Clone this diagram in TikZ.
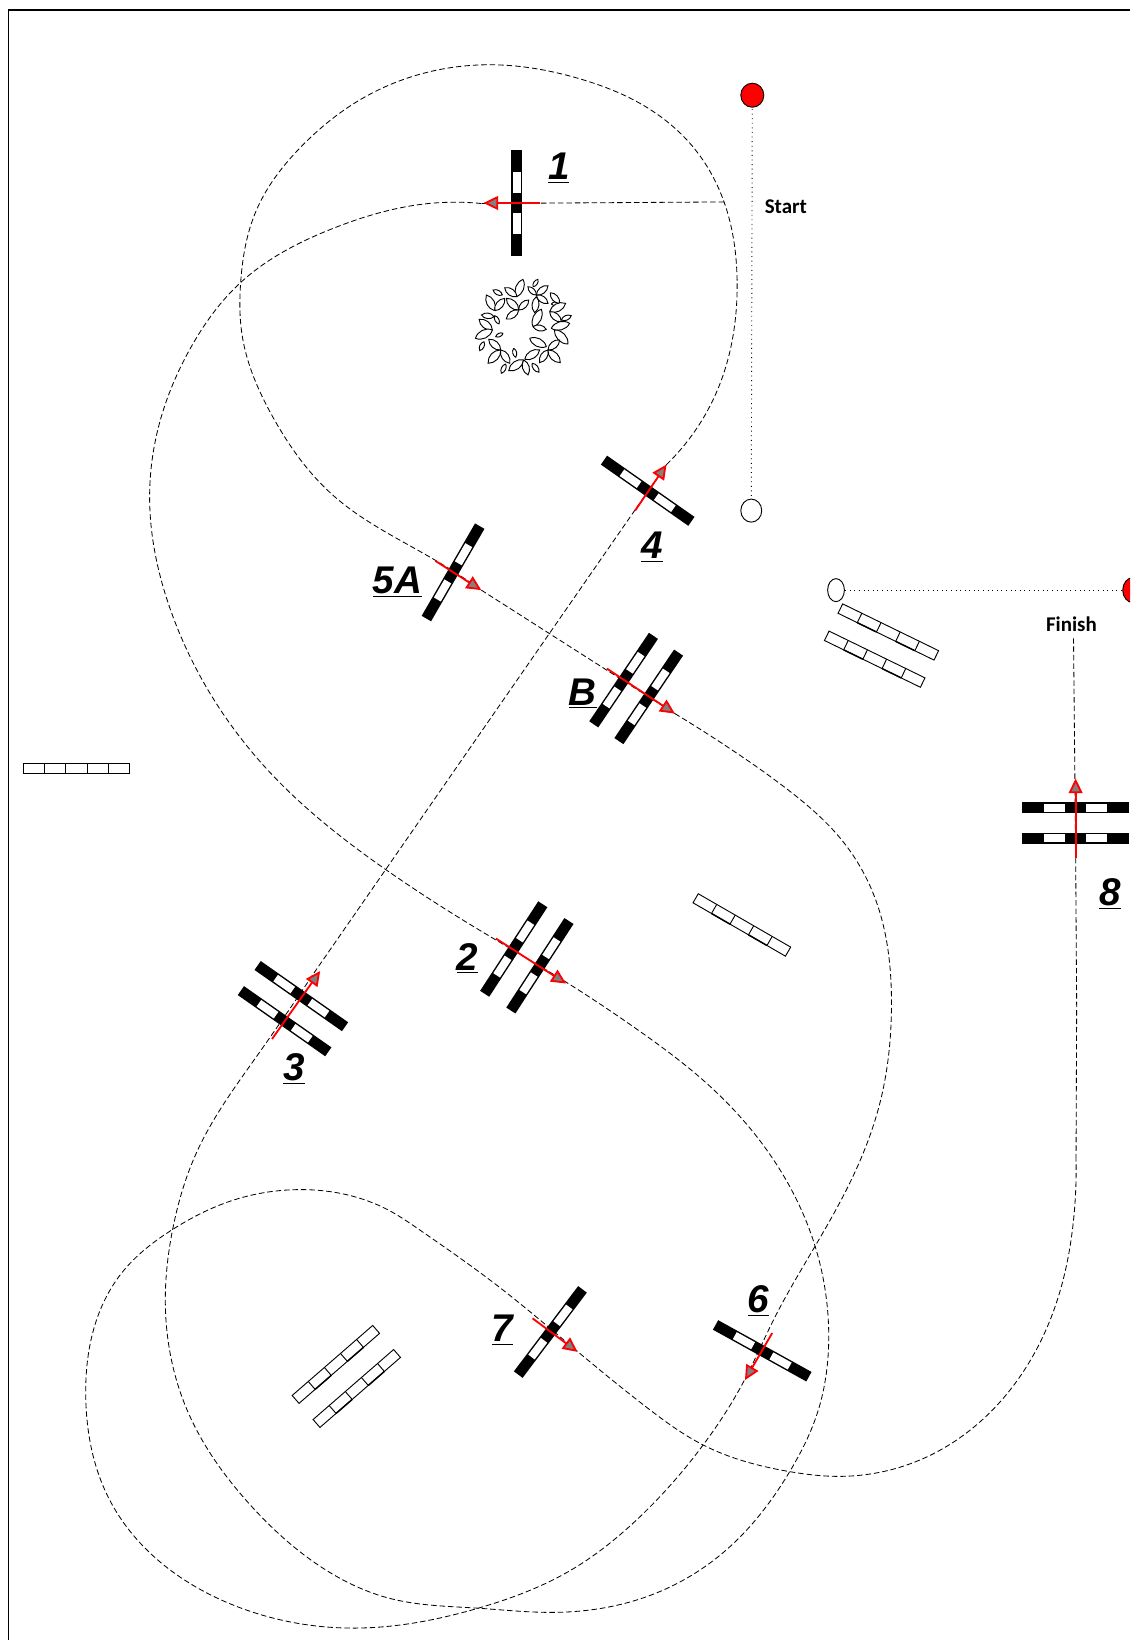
\documentclass[tikz,border=0pt]{standalone}
\usepackage{fontspec}
\setmainfont{Liberation Sans}
\newfontfamily\startfont{Carlito}
\usetikzlibrary{arrows.meta,hobby}
\tikzset{
  course/.style={line width=0.45pt, dash pattern=on 3pt off 1.6pt, use Hobby shortcut},
  gate/.style={line width=0.5pt, dotted},
  redarrow/.style={red, line width=1pt, -{Triangle[length=8pt,width=7.5pt,fill=gray,line width=1pt]}},
  numlabel/.style={font=\fontsize{21}{21}\selectfont\bfseries\itshape, inner sep=0pt},
  gatelabel/.style={font=\startfont\fontsize{11.4}{12}\selectfont\bfseries, inner sep=0pt},
  leaf/.style={line width=0.5pt, fill=white},
}
% pole with black ends: x, y, angle
\newcommand{\blackpole}[3]{
  \begin{scope}[shift={(#1,#2)}, rotate=#3]
    \fill (-51,-5.2) rectangle (51,5.2);
    \fill[white] (-30,-3.8) rectangle (-10,3.8);
    \fill[white] (10,-3.8) rectangle (30,3.8);
  \end{scope}
}
% pole drawn in outline only: x, y, angle
\newcommand{\whitepole}[3]{
  \begin{scope}[shift={(#1,#2)}, rotate=#3]
    \draw[line width=0.5pt] (-51,-5) rectangle (51,5);
    \foreach \s in {-30.6,-10.2,10.2,30.6}
      \draw[line width=0.5pt] (\s,-5) -- (\s,5);
    \draw[line width=0.8pt] (-30.6,5) -- (-10.2,5) (10.2,5) -- (30.6,5);
  \end{scope}
}
\begin{document}
\begin{tikzpicture}[x=0.02cm, y=-0.02cm]
  \clip (0,0) rectangle (1080,1567.4);
  % frame
  \draw[line width=0.8pt] (8,1568) -- (8,9.5) -- (1080,9.5);
  % start and finish
  \draw[gate] (719,91) -- (718,488);
  \draw[gate] (799,564) -- (1083,564);
  \draw[fill=red, line width=0.5pt] (719,91) ellipse (11 and 11.5);
  \draw[fill=white, line width=0.5pt] (718,488) ellipse (10 and 11);
  \draw[fill=white, line width=0.5pt] (799,564) ellipse (8 and 11);
  \draw[fill=red, line width=0.5pt] (1083,564) ellipse (10 and 12);
  % the course, start to 3
  \draw[course] (692,193) -- (460,194.5);
  \draw[course] (460,194.5) .. (405,195) .. (319,218) .. (230,270) .. (183,331) .. (152,406)
    .. (143,475) .. (163,583) .. (255,735) .. (370,832) .. (455,887) .. (540,938)
    .. (612,986) .. (675,1035) .. (739,1108) .. (779,1191) .. (792,1272) .. (781,1351) .. (755,1406) .. (691,1484)
    .. (618,1526) .. (525.5,1541) .. (457,1537) .. (374,1528) .. (306,1497) .. (238,1437) .. (179,1348) .. (158,1239)
    .. (165,1175) .. (189,1099) .. (245,1010) .. (300,930);
  % 3 to 4
  \draw[course] (300,930) -- (637,444);
  % 4 to 5A to B
  \draw[course] (637,444) .. (686,372) .. (704.5,270) .. (692,193) .. (662,140) .. (612,99) .. (553,75)
    .. (475,62) .. (413,68) .. (343,96) .. (288,140) .. (245,201) .. (230,270) .. (231.5,321) .. (261,399)
    .. (319,474) .. (417,536) .. (460,564);
  \draw[course] (460,564) -- (645,682);
  % B to 6 to 7
  \draw[course] (645,682) .. (700,717) .. (752,754)
    .. (803,801) .. (835,855) .. (852,962) .. (841,1054) .. (809,1137) .. (779,1191) .. (739,1262) .. (712,1318)
    .. (672,1381) .. (608,1453) .. (545,1501) .. (457,1537) .. (336,1556) .. (228,1536) .. (104,1432)
    .. (82,1338) .. (116,1217) .. (165,1175) .. (220,1148) .. (282,1137) .. (374,1158) .. (399,1174) .. (477,1230)
    .. (550,1290) .. (618,1345) .. (672,1381) .. (752,1406) .. (800,1411) .. (880,1395) .. (960,1335)
    .. (1010,1244) .. (1026,1166) .. (1028.4,1108);
  \draw[course] (1028.4,1108) -- (1029,962) -- (1028,815) -- (1026,610);
  % jumps
  \blackpole{494}{194}{90}
  \blackpole{596}{650}{56}
  \blackpole{620}{666}{56}
  \blackpole{491}{907}{57}
  \blackpole{516}{923}{57}
  \blackpole{288}{952}{-35}
  \blackpole{272}{976}{-35}
  \blackpole{619}{469}{-35}
  \blackpole{433}{547}{60}
  \blackpole{728.5}{1291}{-29}
  \blackpole{526}{1273}{53}
  \blackpole{1028}{772}{0}
  \blackpole{1028}{801}{0}
  % spare poles
  \whitepole{73}{734.5}{0}
  \whitepole{849}{604}{-26}
  \whitepole{836}{630}{-26}
  \whitepole{709}{884}{-30}
  \whitepole{321}{1304}{41}
  \whitepole{341}{1327}{41}
  % directions
  \draw[redarrow] (516,194) -- (462,194);
  \draw[redarrow] (607,488) -- (637,444);
  \draw[redarrow] (416,536) -- (460,564);
  \draw[redarrow] (580,639) -- (645,682);
  \draw[redarrow] (474,897) -- (541,940);
  \draw[redarrow] (260,993) -- (306,928);
  \draw[redarrow] (738,1274) -- (712,1319);
  \draw[redarrow] (509,1260) -- (552,1292);
  \draw[redarrow] (1028,820) -- (1028,744);
  % tree
  \begin{scope}[shift={(420.35,115)}, x=0.00637cm, y=-0.00637cm]
    \foreach \xa/\ya/\xb/\yb in {
      230/530/250/478, 232/530/195/503, 280/500/295/478, 290/525/325/497, 290/525/265/500,
      290/525/325/550, 188/525/160/510, 165/572/140/525, 165/572/195/535, 163/590/125/585,
      237/570/200/535, 237/570/200/597, 237/570/267/540, 290/530/285/578, 335/552/360/550,
      332/518/360/550, 330/575/378/550, 330/575/365/605, 365/600/395/587, 178/612/165/587,
      158/630/118/598, 158/630/107/655, 190/640/168/650, 280/620/305/568, 280/620/320/628,
      335/625/390/610, 345/630/385/672, 270/655/320/680, 133/665/120/692, 183/690/147/658,
      183/690/145/730, 183/690/210/730, 222/685/228/712, 255/718/300/690, 325/690/360/660,
      325/690/300/728, 325/690/362/728, 252/720/207/752, 252/720/265/765, 277/730/298/757,
      198/732/185/760}
      \draw[leaf] (\xa,\ya) to[bend left=48] (\xb,\yb) to[bend left=48] (\xa,\ya);
  \end{scope}
  % labels
  \node[numlabel] (lab1) at (534,161) {\underline{1}};
  \node[numlabel] (lab2) at (447,916) {\underline{2}};
  \node[numlabel] (lab3) at (281,1022) {\underline{3}};
  \node[numlabel] (lab4) at (623,523) {\underline{4}};
  \node[numlabel] (lab5A) at (380,556) {\underline{5A}};
  \node[numlabel] (labB) at (557,663) {\underline{B}};
  \node[numlabel] (lab6) at (725,1243) {\underline{6}};
  \node[numlabel] (lab7) at (480,1271) {\underline{7}};
  \node[numlabel] (lab8) at (1061,854) {\underline{8}};
  \node[gatelabel] (start) at (751,198) {Start};
  \node[gatelabel] (finish) at (1024,596.5) {Finish};
\end{tikzpicture}
\end{document}
